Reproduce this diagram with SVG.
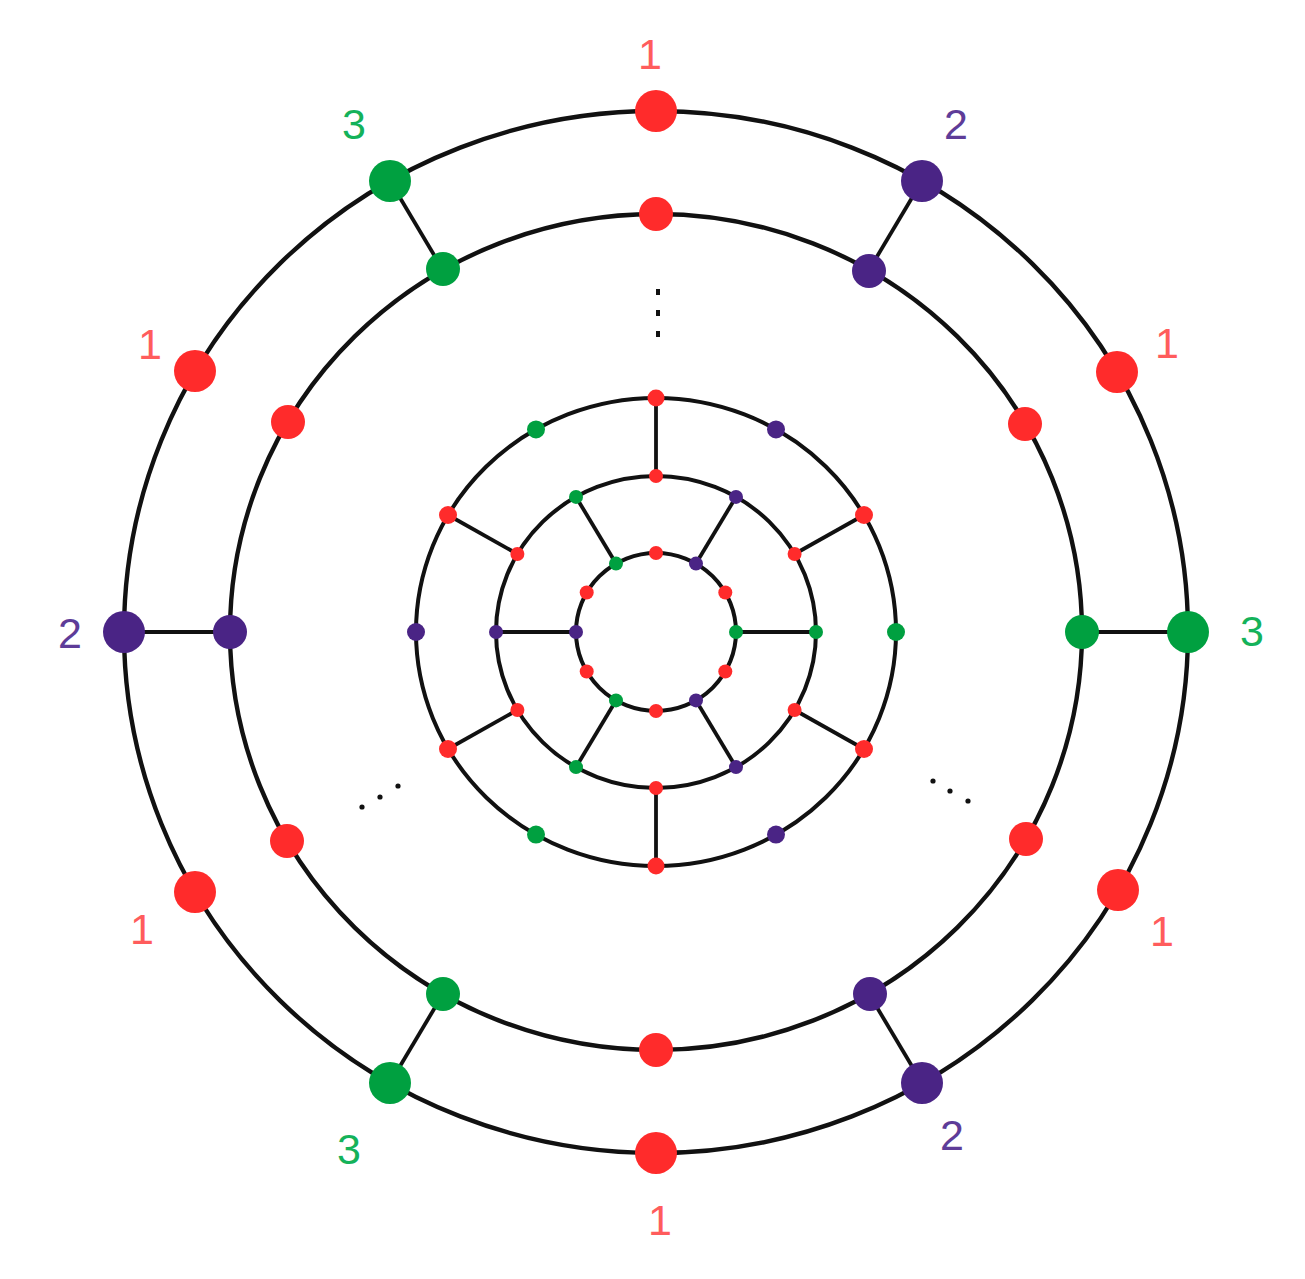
<svg xmlns="http://www.w3.org/2000/svg" width="1305" height="1279" viewBox="0 0 1305 1279">
<style>
.ring{fill:none;stroke:#111;stroke-width:4.4}
.ringi{fill:none;stroke:#111;stroke-width:4}
.sp{stroke:#111;stroke-width:3.8}
.r{fill:#FF2B2B}
.g{fill:#00A040}
.p{fill:#4A2485}
.lbl{font-family:"Liberation Sans",Arial,sans-serif;font-size:43px;text-anchor:middle}
.lr{fill:#FF5C5C}
.lg{fill:#14B25A}
.lp{fill:#5E3C98}
.dot{fill:#111}
</style>
<rect width="1305" height="1279" fill="#fff"/>
<g id="connectors">
<ellipse class="ring" cx="656" cy="632" rx="532" ry="521"/>
<ellipse class="ring" cx="656" cy="632" rx="426" ry="418"/>
<ellipse class="ringi" cx="656" cy="632" rx="240" ry="234"/>
<ellipse class="ringi" cx="656" cy="632" rx="160" ry="156"/>
<ellipse class="ringi" cx="656" cy="632" rx="80" ry="79"/>
<line class="sp" x1="1188" y1="632" x2="1082" y2="632"/>
<line class="sp" x1="922" y1="181" x2="869" y2="270"/>
<line class="sp" x1="390" y1="181" x2="443" y2="270"/>
<line class="sp" x1="124" y1="632" x2="230" y2="632"/>
<line class="sp" x1="390" y1="1083" x2="443" y2="994"/>
<line class="sp" x1="922" y1="1083" x2="869" y2="994"/>
<line class="sp" x1="864" y1="515" x2="794.6" y2="554"/>
<line class="sp" x1="656" y1="398" x2="656" y2="476"/>
<line class="sp" x1="448" y1="515" x2="517.4" y2="554"/>
<line class="sp" x1="448" y1="749" x2="517.4" y2="710"/>
<line class="sp" x1="656" y1="866" x2="656" y2="788"/>
<line class="sp" x1="864" y1="749" x2="794.6" y2="710"/>
<line class="sp" x1="816" y1="632" x2="736" y2="632"/>
<line class="sp" x1="736" y1="496.9" x2="696" y2="563.6"/>
<line class="sp" x1="576" y1="496.9" x2="616" y2="563.6"/>
<line class="sp" x1="496" y1="632" x2="576" y2="632"/>
<line class="sp" x1="576" y1="767.1" x2="616" y2="700.4"/>
<line class="sp" x1="736" y1="767.1" x2="696" y2="700.4"/>
</g>
<g id="ellipsis-dots">
<rect class="dot" x="656" y="289" width="4" height="6"/>
<rect class="dot" x="656" y="310" width="4" height="6"/>
<rect class="dot" x="656" y="331" width="4" height="6"/>
<circle class="dot" cx="362" cy="807" r="2.6"/>
<circle class="dot" cx="380" cy="797" r="2.6"/>
<circle class="dot" cx="398" cy="786" r="2.6"/>
<circle class="dot" cx="933" cy="781" r="2.6"/>
<circle class="dot" cx="950" cy="791" r="2.6"/>
<circle class="dot" cx="968" cy="801" r="2.6"/>
</g>
<g id="outer-ring">
<g id="o0"><circle class="g" cx="1188" cy="632" r="21"/><text class="lbl lg" x="1252" y="646">3</text></g>
<g id="o30"><circle class="r" cx="1117" cy="372" r="21"/><text class="lbl lr" x="1167" y="358">1</text></g>
<g id="o60"><circle class="p" cx="922" cy="181" r="21"/><text class="lbl lp" x="956" y="139">2</text></g>
<g id="o90"><circle class="r" cx="656" cy="111" r="21"/><text class="lbl lr" x="650" y="69">1</text></g>
<g id="o120"><circle class="g" cx="390" cy="181" r="21"/><text class="lbl lg" x="354" y="139">3</text></g>
<g id="o150"><circle class="r" cx="195" cy="371" r="21"/><text class="lbl lr" x="150" y="359">1</text></g>
<g id="o180"><circle class="p" cx="124" cy="632" r="21"/><text class="lbl lp" x="70" y="648">2</text></g>
<g id="o210"><circle class="r" cx="195" cy="892" r="21"/><text class="lbl lr" x="142" y="944">1</text></g>
<g id="o240"><circle class="g" cx="390" cy="1083" r="21"/><text class="lbl lg" x="349" y="1164">3</text></g>
<g id="o270"><circle class="r" cx="656" cy="1153" r="21"/><text class="lbl lr" x="660" y="1235">1</text></g>
<g id="o300"><circle class="p" cx="922" cy="1083" r="21"/><text class="lbl lp" x="952" y="1150">2</text></g>
<g id="o330"><circle class="r" cx="1118" cy="890" r="21"/><text class="lbl lr" x="1162" y="946">1</text></g>
</g>
<g id="second-ring">
<g id="s0"><circle class="g" cx="1082" cy="632" r="17"/></g>
<g id="s30"><circle class="r" cx="1025" cy="424" r="17"/></g>
<g id="s60"><circle class="p" cx="869" cy="271" r="17"/></g>
<g id="s90"><circle class="r" cx="656" cy="214" r="17"/></g>
<g id="s120"><circle class="g" cx="443" cy="269" r="17"/></g>
<g id="s150"><circle class="r" cx="288" cy="422" r="17"/></g>
<g id="s180"><circle class="p" cx="230" cy="632" r="17"/></g>
<g id="s210"><circle class="r" cx="287" cy="841" r="17"/></g>
<g id="s240"><circle class="g" cx="443" cy="994" r="17"/></g>
<g id="s270"><circle class="r" cx="656" cy="1050" r="17"/></g>
<g id="s300"><circle class="p" cx="870" cy="994" r="17"/></g>
<g id="s330"><circle class="r" cx="1026" cy="839" r="17"/></g>
</g>
<g id="ring3">
<g id="a0"><circle class="g" cx="896" cy="632" r="9"/></g>
<g id="a30"><circle class="r" cx="864" cy="515" r="9"/></g>
<g id="a60"><circle class="p" cx="776" cy="429.4" r="9"/></g>
<g id="a90"><circle class="r" cx="656" cy="398" r="8.5"/></g>
<g id="a120"><circle class="g" cx="536" cy="429.4" r="9"/></g>
<g id="a150"><circle class="r" cx="448" cy="515" r="9"/></g>
<g id="a180"><circle class="p" cx="416" cy="632" r="9"/></g>
<g id="a210"><circle class="r" cx="448" cy="749" r="9"/></g>
<g id="a240"><circle class="g" cx="536" cy="834.6" r="9"/></g>
<g id="a270"><circle class="r" cx="656" cy="866" r="8.5"/></g>
<g id="a300"><circle class="p" cx="776" cy="834.6" r="9"/></g>
<g id="a330"><circle class="r" cx="864" cy="749" r="9"/></g>
</g>
<g id="ring4">
<g id="b0"><circle class="g" cx="816" cy="632" r="7"/></g>
<g id="b30"><circle class="r" cx="794.6" cy="554" r="7"/></g>
<g id="b60"><circle class="p" cx="736" cy="496.9" r="7"/></g>
<g id="b90"><circle class="r" cx="656" cy="476" r="7"/></g>
<g id="b120"><circle class="g" cx="576" cy="496.9" r="7"/></g>
<g id="b150"><circle class="r" cx="517.4" cy="554" r="7"/></g>
<g id="b180"><circle class="p" cx="496" cy="632" r="7"/></g>
<g id="b210"><circle class="r" cx="517.4" cy="710" r="7"/></g>
<g id="b240"><circle class="g" cx="576" cy="767.1" r="7"/></g>
<g id="b270"><circle class="r" cx="656" cy="788" r="7"/></g>
<g id="b300"><circle class="p" cx="736" cy="767.1" r="7"/></g>
<g id="b330"><circle class="r" cx="794.6" cy="710" r="7"/></g>
</g>
<g id="ring5">
<g id="c0"><circle class="g" cx="736" cy="632" r="7"/></g>
<g id="c30"><circle class="r" cx="725.3" cy="592.5" r="7"/></g>
<g id="c60"><circle class="p" cx="696" cy="563.6" r="7"/></g>
<g id="c90"><circle class="r" cx="656" cy="553" r="7"/></g>
<g id="c120"><circle class="g" cx="616" cy="563.6" r="7"/></g>
<g id="c150"><circle class="r" cx="586.7" cy="592.5" r="7"/></g>
<g id="c180"><circle class="p" cx="576" cy="632" r="7"/></g>
<g id="c210"><circle class="r" cx="586.7" cy="671.5" r="7"/></g>
<g id="c240"><circle class="g" cx="616" cy="700.4" r="7"/></g>
<g id="c270"><circle class="r" cx="656" cy="711" r="7"/></g>
<g id="c300"><circle class="p" cx="696" cy="700.4" r="7"/></g>
<g id="c330"><circle class="r" cx="725.3" cy="671.5" r="7"/></g>
</g>
</svg>
